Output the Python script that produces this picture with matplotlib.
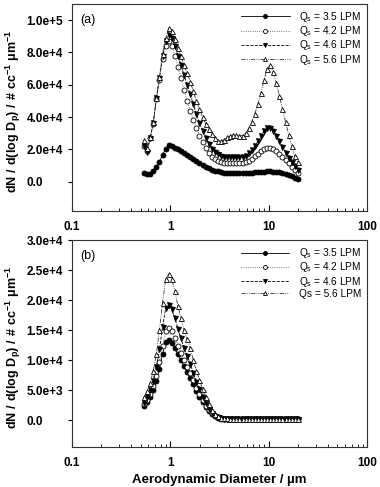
import numpy as np
import matplotlib
matplotlib.use("Agg")
import matplotlib.pyplot as plt
from matplotlib.ticker import FuncFormatter, LogLocator, NullFormatter

plt.rcParams['font.family'] = ['Liberation Sans', 'DejaVu Sans']
plt.rcParams['mathtext.fontset'] = 'custom'
plt.rcParams['mathtext.rm'] = 'Liberation Sans'
plt.rcParams['mathtext.bf'] = 'Liberation Sans:bold'

# APS channel mid-point diameters (um)
diam = [0.542, 0.583, 0.626, 0.673, 0.723, 0.777, 0.835, 0.898, 0.965, 1.037,
        1.114, 1.197, 1.286, 1.382, 1.486, 1.596, 1.715, 1.843, 1.981, 2.129,
        2.288, 2.458, 2.642, 2.839, 3.051, 3.278, 3.523, 3.786, 4.068, 4.371,
        4.698, 5.048, 5.425, 5.829, 6.264, 6.732, 7.234, 7.774, 8.354, 8.977,
        9.647, 10.37, 11.14, 11.97, 12.86, 13.82, 14.86, 15.96, 17.15, 18.43,
        19.81]

# panel (a)
a_35 = [5500, 4500, 5000, 6500, 9000, 12500, 16500, 20500, 22500, 22000,
        21000, 20000, 19000, 18000, 16800, 15500, 14200, 12800, 11500, 10300,
        9300, 8400, 7500, 6900, 6400, 6000, 5700, 5500, 5400, 5400,
        5300, 5200, 5200, 5300, 5400, 5600, 5800, 6000, 6200, 6300,
        6400, 6400, 6300, 6100, 5800, 5300, 4700, 4000, 3300, 2600,
        2000]
a_42 = [22000, 19000, 27000, 36000, 51000, 63000, 76000, 84000, 87000, 84000,
        78000, 71000, 64000, 57000, 50000, 44000, 38500, 33500, 28500, 24500,
        21000, 18000, 15500, 14000, 13000, 12200, 11800, 11600, 11500, 11500,
        11500, 11500, 11600, 12000, 13000, 14300, 15800, 17300, 18800, 20000,
        20800, 21000, 20300, 19000, 17300, 15300, 13300, 11300, 9300, 7300,
        5500]
a_46 = [22000, 18500, 27000, 36500, 51500, 64000, 78000, 87000, 91000, 89000,
        84000, 78000, 72000, 66000, 60000, 54000, 48000, 42000, 36500, 31500,
        27000, 23500, 20500, 18500, 17000, 16000, 15500, 15500, 15500, 15500,
        15500, 15500, 15500, 16000, 17500, 19500, 22000, 25000, 28500, 31500,
        33500, 33500, 31500, 28500, 25000, 21500, 18000, 15000, 12000, 9500,
        7500]
a_56 = [26000, 21000, 27500, 37000, 52000, 65000, 79000, 89000, 95000, 93000,
        88000, 83000, 78000, 72000, 67000, 62000, 56000, 50000, 45000, 40000,
        36000, 32500, 29500, 27000, 25500, 25000, 26000, 27500, 28500, 29000,
        29000, 28500, 28500, 30000, 33000, 37000, 42000, 48000, 55000, 63000,
        70000, 72000, 68000, 61000, 53000, 45000, 37000, 29000, 22000, 16000,
        12000]

# panel (b)
b_35 = [2300, 3000, 3900, 5000, 6500, 8500, 11000, 13000, 13300, 12900,
        12000, 11000, 10000, 9000, 8000, 7000, 6000, 4900, 3900, 3000,
        2200, 1500, 1000, 600, 400, 250, 200, 180, 170, 170,
        160, 160, 150, 150, 150, 140, 140, 140, 150, 150,
        150, 140, 140, 130, 130, 130, 120, 120, 110, 110,
        100]
b_42 = [2600, 3400, 4300, 5600, 7300, 9600, 12400, 14800, 15300, 14800,
        13700, 12400, 11200, 10000, 8900, 7800, 6600, 5400, 4300, 3300,
        2400, 1700, 1100, 700, 450, 300, 250, 220, 210, 200,
        200, 190, 190, 190, 180, 180, 180, 180, 180, 180,
        180, 180, 170, 170, 170, 160, 160, 160, 150, 150,
        150]
b_46 = [2800, 3800, 5000, 6500, 8800, 11800, 15500, 18600, 19200, 18500,
        17000, 15200, 13600, 12000, 10700, 9400, 7900, 6400, 5100, 3900,
        2800, 1900, 1200, 750, 450, 300, 250, 230, 220, 210,
        210, 200, 200, 200, 200, 200, 190, 190, 190, 190,
        190, 190, 190, 180, 180, 180, 170, 170, 170, 160,
        160]
b_56 = [3800, 4800, 6200, 8200, 11000, 15000, 19500, 23500, 24300, 23500,
        21500, 19000, 17000, 15000, 13500, 12000, 10000, 8200, 6700, 5200,
        3800, 2700, 1700, 1000, 600, 400, 300, 280, 260, 250,
        250, 250, 240, 240, 240, 230, 230, 230, 230, 230,
        230, 230, 220, 220, 220, 210, 210, 210, 200, 200,
        200]

labels_a = [r'Q$_\mathrm{s}$ = 3.5 LPM', r'Q$_\mathrm{s}$ = 4.2 LPM',
            r'Q$_\mathrm{s}$ = 4.6 LPM', r'Q$_\mathrm{s}$ = 5.6 LPM']
labels_b = [r'Q$_\mathrm{s}$ = 3.5 LPM', r'Q$_\mathrm{s}$ = 4.2 LPM',
            r'Q$_\mathrm{s}$ = 4.6 LPM', 'Qs = 5.6 LPM']

styles = [dict(ls='-', marker='o', mfc='black', color='black'),
          dict(ls=':', marker='o', mfc='white', color='#555555'),
          dict(ls='--', marker='v', mfc='black', color='black'),
          dict(ls=(0, (5, 1.5, 1, 1.5, 1, 1.5)), marker='^', mfc='white', color='#333333')]

ylabel = r'$\mathbf{dN\ /\ d(log\ D_{p})\ /\ \#\ cc^{-1}\ \mu m^{-1}}$'


def sci_fmt(v, pos):
    if abs(v) < 1e-9:
        return '0.0'
    s = '%.1e' % v
    mant, ex = s.split('e')
    return '%se%s%d' % (mant, ex[0], int(ex[1:]))


def make_panel(ax, series, labels, ylim, yticks, tag):
    for y, lab, st in zip(series, labels, styles):
        ax.plot(diam, y, lw=0.6, ms=3.6, mew=0.6, mec='black',
                label=lab, **st)
    ax.set_xscale('log')
    ax.set_xlim(0.1, 100)
    ax.set_ylim(*ylim)
    ax.set_yticks(yticks)
    ax.yaxis.set_major_formatter(FuncFormatter(sci_fmt))
    ax.xaxis.set_major_locator(LogLocator(base=10))
    ax.xaxis.set_minor_locator(LogLocator(base=10, subs=np.arange(2, 10)))
    ax.xaxis.set_minor_formatter(NullFormatter())
    ax.xaxis.set_major_formatter(FuncFormatter(lambda v, p: '%g' % v))
    ax.tick_params(axis='x', which='both', direction='in', labelsize=8.5, pad=7)
    ax.tick_params(axis='x', which='major', length=4)
    ax.tick_params(axis='x', which='minor', length=2)
    ax.tick_params(axis='y', direction='out', length=3, labelsize=8.5, pad=29.5)
    for lab in ax.get_xticklabels():
        lab.set_fontweight('bold')
    for lab in ax.get_yticklabels():
        lab.set_fontweight('bold')
        lab.set_horizontalalignment('left')
    for sp in ax.spines.values():
        sp.set_linewidth(0.8)
        sp.set_color('#333333')
    ax.set_ylabel(ylabel, fontsize=9)
    ax.yaxis.set_label_coords(-0.165, 0.48)
    ax.text(0.03, 0.95, tag, transform=ax.transAxes, fontsize=9, va='top')
    leg = ax.legend(loc='upper right', frameon=False, fontsize=7.3,
                    handlelength=4.8, labelspacing=0.02, borderaxespad=0.2,
                    handletextpad=0.9, markerscale=0.8)
    return leg


fig = plt.figure(figsize=(3.8, 4.87), dpi=100)
ax1 = fig.add_axes([0.189, 0.567, 0.777, 0.425])
ax2 = fig.add_axes([0.189, 0.082, 0.777, 0.425])

make_panel(ax1, [a_35, a_42, a_46, a_56], labels_a, (-18000, 110000),
           [0, 20000, 40000, 60000, 80000, 100000], '(a)')
make_panel(ax2, [b_35, b_42, b_46, b_56], labels_b, (-4500, 30000),
           [0, 5000, 10000, 15000, 20000, 25000, 30000], '(b)')
ax2.set_xlabel('Aerodynamic Diameter / µm', fontsize=9.5, fontweight='bold')

fig.savefig('out.png', dpi=100)
